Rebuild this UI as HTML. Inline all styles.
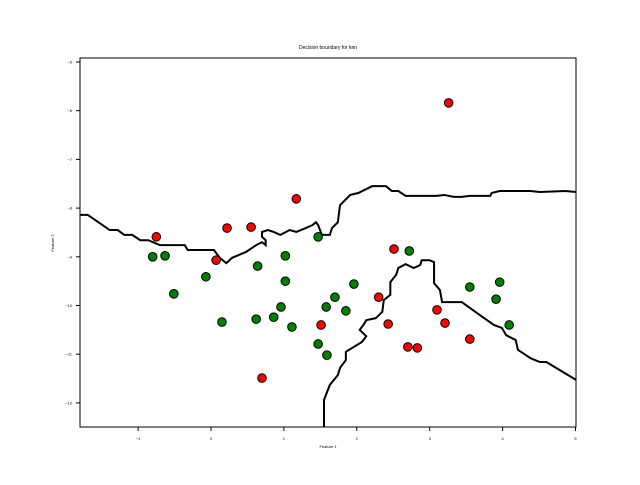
<!DOCTYPE html>
<html><head><meta charset="utf-8"><style>
html,body{margin:0;padding:0;background:#fff;}
svg text{font-family:"Liberation Sans",sans-serif;}
</style></head><body>
<svg id="chart" width="640" height="480" xmlns="http://www.w3.org/2000/svg">
<text x="328" y="49" font-size="5" text-anchor="middle">Decision boundary for knn</text>
<g id="boundary"></g>
<g id="points"></g>
<rect x="80" y="58" width="496" height="369" fill="none" stroke="#000" stroke-width="1"/>
<g id="ticks"></g>
<text x="328" y="448" font-size="4" text-anchor="middle">Feature 1</text>
<text x="54" y="243" font-size="4" text-anchor="middle" transform="rotate(-90 54 243)">Feature 2</text>
</svg>
<script>
const xTicks=[-1,0,1,2,3,4,5];
const yTicks=[-5,-6,-7,-8,-9,-10,-11,-12];
const redX=[3.26,1.17,0.22,0.55,-0.75,0.07,2.51,2.30,1.51,2.43,3.10,3.21,2.70,2.83,3.55,0.70];
const redY=[-5.84,-7.81,-8.41,-8.39,-8.59,-9.07,-8.84,-9.83,-10.40,-10.38,-10.09,-10.36,-10.85,-10.87,-10.69,-11.49];
const greenX=[-0.80,-0.63,1.47,2.72,0.64,1.02,-0.07,1.02,-0.51,1.96,3.55,3.96,1.58,1.70,1.85,0.96,0.15,0.62,0.86,1.11,3.91,4.09,1.47,1.59];
const greenY=[-9.00,-8.98,-8.59,-8.88,-9.19,-8.98,-9.41,-9.50,-9.76,-9.56,-9.62,-9.52,-10.03,-9.83,-10.11,-10.03,-10.34,-10.28,-10.24,-10.44,-9.87,-10.40,-10.79,-11.02];
const b1X=[-1.80,-1.69,-1.39,-1.28,-1.19,-1.08,-0.97,-0.86,-0.70,-0.36,-0.32,0.04,0.12,0.21,0.29,0.48,0.62,0.70,0.75,0.75,0.70,0.70,0.78,0.86,0.95,1.08,1.17,1.30,1.39,1.44,1.47,1.52,1.63,1.66,1.74,1.77,1.91,2.02,2.21,2.40,2.48,2.57,2.67,3.09,3.20,3.33,3.44,3.55,3.83,3.85,3.96,4.38,4.51,4.86,5.01];
const b1Y=[-8.14,-8.14,-8.45,-8.45,-8.55,-8.55,-8.66,-8.66,-8.76,-8.76,-8.86,-8.86,-9.02,-9.13,-9.02,-8.90,-8.76,-8.70,-8.76,-8.66,-8.59,-8.49,-8.45,-8.49,-8.55,-8.45,-8.49,-8.41,-8.35,-8.29,-8.35,-8.55,-8.55,-8.41,-8.29,-7.94,-7.73,-7.69,-7.55,-7.55,-7.65,-7.65,-7.75,-7.75,-7.73,-7.77,-7.77,-7.75,-7.75,-7.69,-7.65,-7.65,-7.67,-7.65,-7.67];
const b2X=[1.55,1.55,1.63,1.74,1.77,1.85,1.85,2.07,2.13,2.04,2.10,2.13,2.26,2.35,2.37,2.46,2.46,2.54,2.57,2.67,2.78,2.87,2.89,3.00,3.06,3.06,3.14,3.17,3.44,3.69,3.88,3.99,4.05,4.18,4.21,4.38,4.51,4.60,5.01];
const b2Y=[-12.49,-11.94,-11.63,-11.43,-11.28,-11.12,-10.95,-10.75,-10.63,-10.50,-10.38,-10.30,-10.26,-10.13,-9.89,-9.78,-9.52,-9.37,-9.23,-9.15,-9.23,-9.17,-9.07,-9.07,-9.11,-9.54,-9.68,-9.93,-9.93,-10.20,-10.40,-10.46,-10.61,-10.71,-10.91,-11.08,-11.16,-11.16,-11.53];
const NS="http://www.w3.org/2000/svg";
const sx=v=>211+(v)*72.9;
const sy=v=>62+(-5-v)*48.7;
const bg=document.getElementById('boundary');
function line(xs,ys,name){
  const p=document.createElementNS(NS,'polyline');
  p.setAttribute('points',xs.map((x,i)=>sx(x)+','+sy(ys[i])).join(' '));
  p.setAttribute('fill','none');p.setAttribute('stroke','#000');p.setAttribute('stroke-width','2');
  
  
  bg.appendChild(p);
}
line(b1X,b1Y,'boundary-upper');
line(b2X,b2Y,'boundary-lower');
const pg=document.getElementById('points');
function pts(xs,ys,color,name){
  xs.forEach((x,i)=>{
    const c=document.createElementNS(NS,'circle');
    c.setAttribute('cx',sx(x));c.setAttribute('cy',sy(ys[i]));c.setAttribute('r','4.3');
    c.setAttribute('fill',color);c.setAttribute('stroke','#000');c.setAttribute('stroke-width','1');
    
    
    pg.appendChild(c);
  });
}
pts(redX,redY,'#ff0000','red-point');
pts(greenX,greenY,'#008000','green-point');
const tg=document.getElementById('ticks');
xTicks.forEach(v=>{
  const x=sx(v);
  const l=document.createElementNS(NS,'line');
  l.setAttribute('x1',x);l.setAttribute('x2',x);l.setAttribute('y1',427);l.setAttribute('y2',431);l.setAttribute('stroke','#000');
  
  
  tg.appendChild(l);
  const t=document.createElementNS(NS,'text');
  t.setAttribute('x',x);t.setAttribute('y',440);t.setAttribute('font-size','4');t.setAttribute('text-anchor','middle');
  t.textContent=v<0?'\u2212'+(-v):String(v);
  
  
  tg.appendChild(t);
});
yTicks.forEach(v=>{
  const y=sy(v);
  const l=document.createElementNS(NS,'line');
  l.setAttribute('x1',76);l.setAttribute('x2',80);l.setAttribute('y1',y);l.setAttribute('y2',y);l.setAttribute('stroke','#000');
  
  
  tg.appendChild(l);
  const t=document.createElementNS(NS,'text');
  t.setAttribute('x',72);t.setAttribute('y',y+1.5);t.setAttribute('font-size','4');t.setAttribute('text-anchor','end');
  t.textContent='\u2212'+(-v);
  
  
  tg.appendChild(t);
});
</script>
</body></html>
